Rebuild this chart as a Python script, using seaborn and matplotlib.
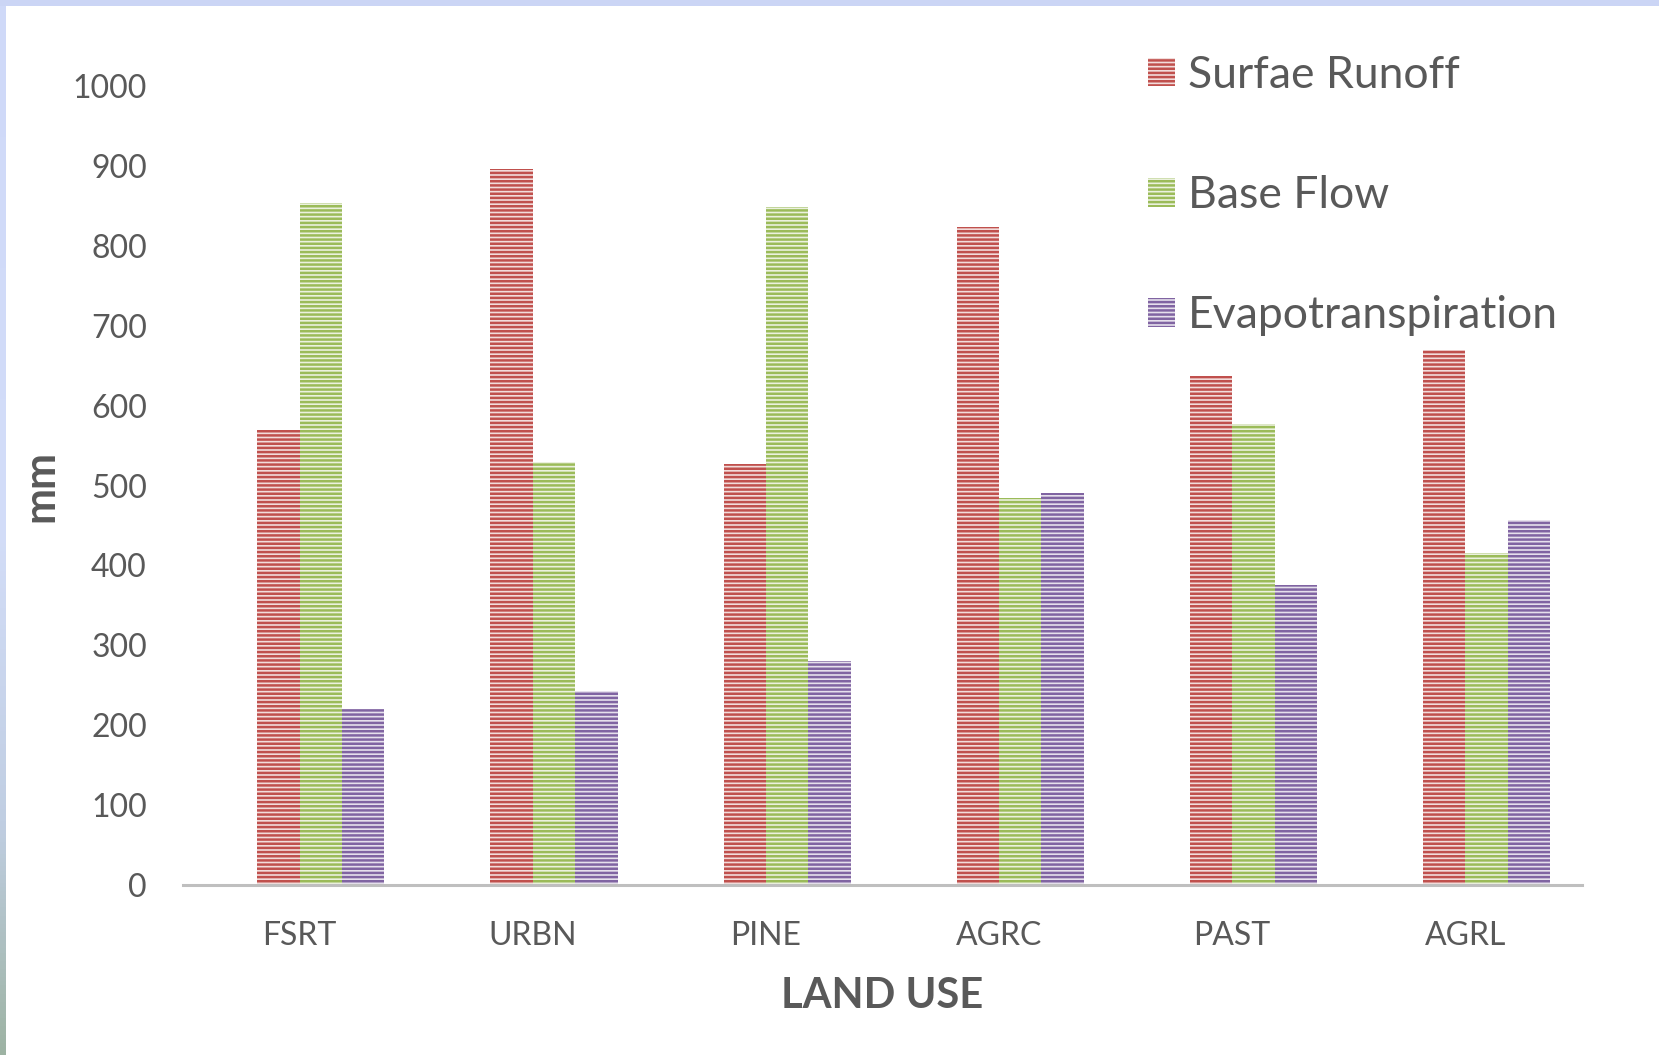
import numpy as np
import pandas as pd
import matplotlib
matplotlib.use("Agg")
import matplotlib.pyplot as plt
from matplotlib.colors import LinearSegmentedColormap, to_rgb, to_hex
from matplotlib.patches import Rectangle
import seaborn as sns

# Annual water balance components per land use (mm)
land_uses = ["FSRT", "URBN", "PINE", "AGRC", "PAST", "AGRL"]
surface_runoff = [570, 896, 527, 823, 637, 669]
base_flow = [853, 529, 849, 484, 577, 415]
evapotranspiration = [220, 243, 280, 490, 375, 457]
series_names = ["Surfae Runoff", "Base Flow", "Evapotranspiration"]
series_colors = ["#C0504D", "#9BBB59", "#8064A2"]
y_ticks = [0, 100, 200, 300, 400, 500, 600, 700, 800, 900, 1000]

df = pd.DataFrame({
    "land": land_uses * 3,
    "mm": surface_runoff + base_flow + evapotranspiration,
    "component": np.repeat(series_names, len(land_uses)),
})

sns.set_theme(style="white")
plt.rcParams["font.family"] = ["Lato", "DejaVu Sans"]
plt.rcParams["hatch.linewidth"] = 1.8
text_color = "#595959"

W, H = 1659, 1055
fig = plt.figure(figsize=(W / 100, H / 100), dpi=100)
fig.patch.set_facecolor("white")
ax = fig.add_axes([183 / W, 1 - 885 / H, (1582 - 183) / W, (885 - 86) / H])

# An empty leading series slot keeps the three bars right of the category tick
hue_levels = [" "] + series_names
palette = dict(zip(hue_levels, ["#FFFFFF"] + series_colors))
sns.barplot(data=df, x="land", y="mm", hue="component", hue_order=hue_levels,
            palette=palette, saturation=1, width=0.727, legend=False, ax=ax,
            errorbar=None)

# Striped fill: pale tint underneath, dense horizontal lines in the series colour
def tint(c, f=0.8):
    r, g, b = to_rgb(c)
    return (r + (1 - r) * f, g + (1 - g) * f, b + (1 - b) * f)

lookup = {to_hex(c): c for c in series_colors}
legend_handles = {}
for p in ax.patches:
    col = lookup.get(to_hex(p.get_facecolor()))
    if col is None:
        continue
    p.set_facecolor(tint(col))
    p.set_edgecolor(col)
    p.set_linewidth(0)
    p.set_hatch("----")
    legend_handles.setdefault(col, p)

ax.set_xlim(-0.5, 5.5)
ax.set_ylim(0, 1000)
ax.set_yticks(y_ticks)
ax.tick_params(axis="both", length=0, labelsize=23, labelcolor=text_color, pad=26)
for s in ["top", "right", "left"]:
    ax.spines[s].set_visible(False)
ax.spines["bottom"].set_color("#BFBFBF")
ax.spines["bottom"].set_linewidth(2.2)
ax.grid(False)

ax.set_xlabel("LAND USE", fontsize=30, fontweight="bold", color=text_color)
ax.set_ylabel("mm", fontsize=31, fontweight="bold", color=text_color)
ax.xaxis.set_label_coords(0.5, -0.115)
ax.yaxis.set_label_coords(-0.088, 0.5)

handles = [legend_handles[c] for c in series_colors]
leg = ax.legend(handles, series_names, loc="upper left",
                bbox_to_anchor=(1148 / W, 1 - 55 / H), bbox_transform=fig.transFigure,
                frameon=False, fontsize=32, labelcolor=text_color,
                handlelength=0.6, handleheight=0.6, handletextpad=0.3,
                labelspacing=1.78, borderpad=0, borderaxespad=0)

# Frame accents: light blue band on top, gradient strip on the left
fig.add_artist(Rectangle((0, 1 - 6 / H), 1, 6 / H, transform=fig.transFigure,
                         facecolor="#CBD5F5", edgecolor="none", zorder=10))
strip = fig.add_axes([0, 0, 6 / W, 1 - 6 / H])
cmap = LinearSegmentedColormap.from_list(
    "edge", [(0, "#CFD9F8"), (0.5, "#D3DDF8"), (0.78, "#C0CEE2"), (1.0, "#9DB3A3")])
strip.imshow(np.linspace(0, 1, 256).reshape(-1, 1), aspect="auto", cmap=cmap)
strip.set_axis_off()

fig.savefig("out.png", dpi=100)
